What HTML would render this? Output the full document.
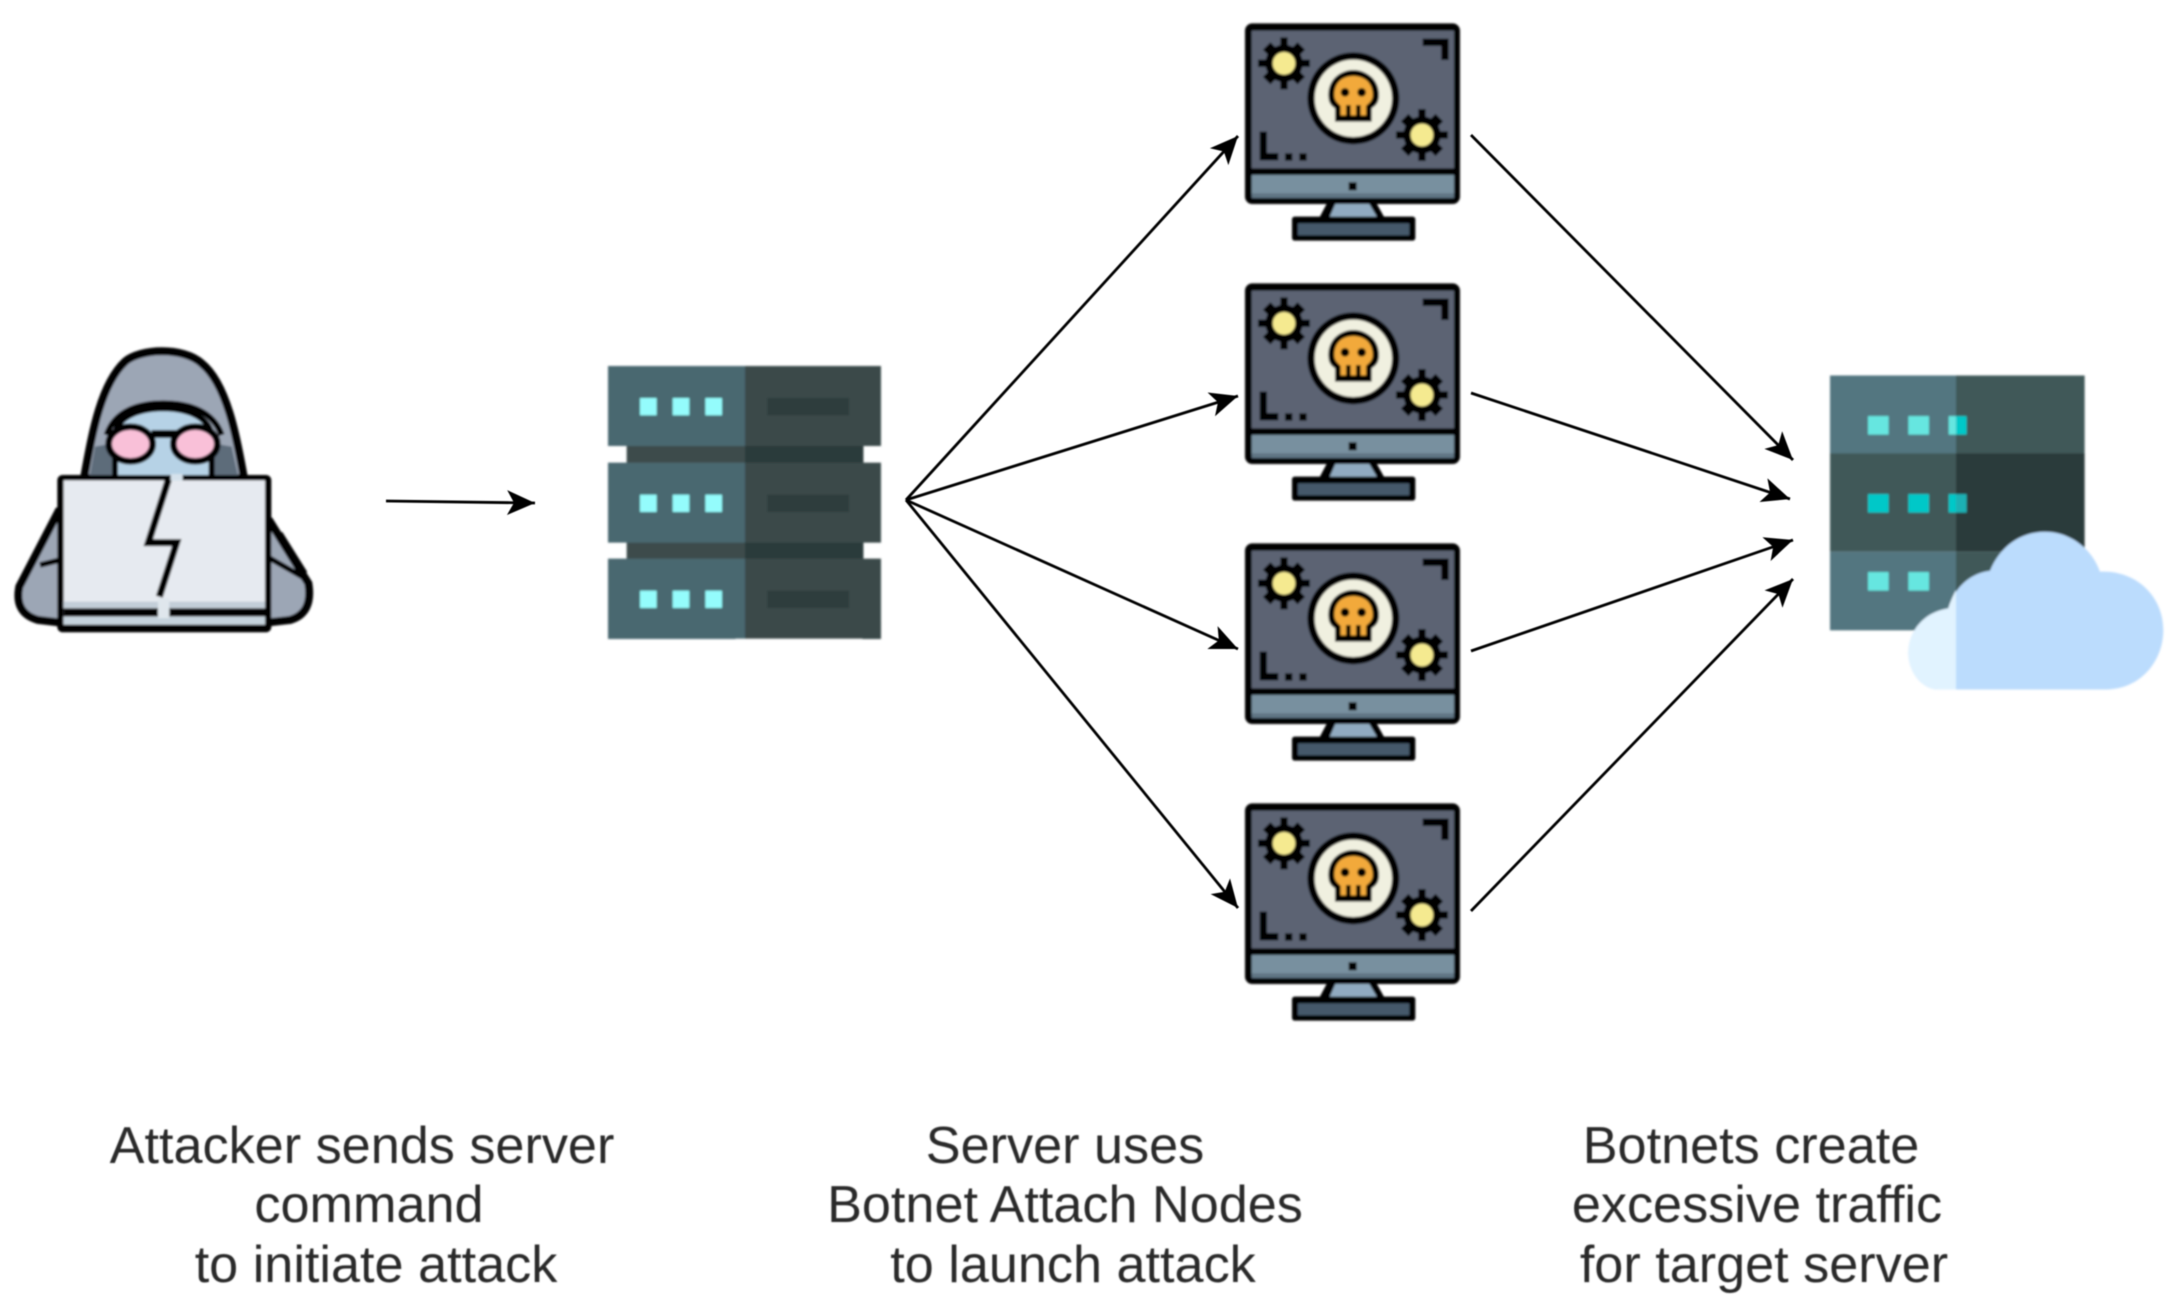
<!DOCTYPE html>
<html><head><meta charset="utf-8"><style>
html,body{margin:0;padding:0;background:#fff}
svg{display:block}
text{font-family:"Liberation Sans",Arial,sans-serif;font-size:52.2px;fill:#2a2a2a;text-anchor:middle}
</style></head><body>
<svg xmlns="http://www.w3.org/2000/svg" width="2178" height="1314" viewBox="0 0 2178 1314">
<defs>
<filter id="b" x="-5%" y="-5%" width="110%" height="110%"><feGaussianBlur stdDeviation="1.1"/></filter>
<filter id="t" x="-5%" y="-20%" width="110%" height="140%"><feGaussianBlur stdDeviation="0.7"/></filter>
<filter id="l" filterUnits="userSpaceOnUse" x="0" y="0" width="2178" height="1314"><feGaussianBlur stdDeviation="0.5"/></filter>
<marker id="a" markerUnits="userSpaceOnUse" markerWidth="32" markerHeight="28" refX="28" refY="14" orient="auto">
<path d="M0,1.5 L28,14 L0,26.5 L7,14 Z" fill="#000"/></marker>
<g id="sun">
<path d="M0,-78V78M-78,0H78" stroke="#000" stroke-width="22"/>
<path d="M-52,-52L52,52M-52,52L52,-52" stroke="#000" stroke-width="32"/>
<circle r="56" fill="#000"/><circle r="34" fill="#f5ea90"/>
</g>
<g id="mon">
<path d="M296,570H434L470,635H262Z" fill="#000"/>
<path d="M316,582H418L445,628H296Z" fill="#90aac0"/>
<rect x="186" y="620" width="370" height="72" rx="8" fill="#000"/>
<rect x="204" y="640" width="334" height="36" fill="#45596a"/>
<rect x="45" y="40" width="645" height="542" rx="22" fill="#000"/>
<rect x="65" y="62" width="607" height="413" fill="#5c6473"/>
<path d="M65,495H672V550Q672,564 658,564H79Q65,564 65,550Z" fill="#78909f"/>
<rect x="65" y="550" width="607" height="14" fill="#5f7484"/>
<rect x="356" y="517" width="24" height="24" fill="#000"/>
<path d="M578,97H645V150" fill="none" stroke="#000" stroke-width="22"/>
<path d="M100,365V440H145" fill="none" stroke="#000" stroke-width="22"/>
<rect x="165" y="430" width="22" height="22"/><rect x="208" y="430" width="22" height="22"/>
<use href="#sun" x="162" y="160"/><use href="#sun" x="576" y="375"/>
<circle cx="370" cy="265" r="138" fill="#000"/>
<circle cx="370" cy="265" r="116" fill="#f0f0e0"/>
<path d="M295,255C295,205 335,180 370,180C405,180 447,205 447,255C447,285 430,290 425,295V335H315V295C310,290 295,285 295,255Z" fill="#000"/>
<path d="M313,255C313,215 340,198 370,198C400,198 428,215 428,255C428,275 412,282 408,288V316H332V288C328,282 313,275 313,255Z" fill="#f2a93b"/>
<circle cx="345" cy="247" r="13" fill="#000"/><circle cx="395" cy="247" r="13" fill="#000"/>
<path d="M355,285V320M385,285V320" stroke="#000" stroke-width="14"/>
</g>
</defs>

<!-- connectors -->
<g fill="none" stroke="#000" stroke-width="2.8" marker-end="url(#a)" filter="url(#l)">
<path d="M386,501L535,503"/>
<path d="M906,500L1238,136"/>
<path d="M906,500L1238,396"/>
<path d="M906,500L1238,649"/>
<path d="M906,500L1238,908"/>
<path d="M1471,135L1793,460"/>
<path d="M1471,393L1790,499"/>
<path d="M1471,651L1793,540"/>
<path d="M1471,911L1793,579"/>
</g>

<g filter="url(#b)">
<!-- hacker -->
<g transform="translate(0,330) scale(.3333)">
<path d="M175,545L58,770Q42,850 115,870L200,880V545Z" fill="#9ca6b5" stroke="#000" stroke-width="24"/>
<path d="M810,575L925,760Q940,850 870,870L780,880V575Z" fill="#9ca6b5" stroke="#000" stroke-width="24"/>
<path d="M120,705L180,690M810,685L915,745M840,610L915,730" fill="none" stroke="#000" stroke-width="16"/>
<path d="M252,445C275,320 300,165 375,95C420,55 550,50 605,100C680,160 710,320 732,445Z" fill="#9ca6b5" stroke="#000" stroke-width="24"/>
<path d="M268,445L285,350L340,340V445ZM716,445L695,350L640,340V445Z" fill="#5d6c7a"/>
<path d="M345,445V320C345,265 410,235 490,235C570,235 630,265 635,320V445Z" fill="#b6d2e6" stroke="#000" stroke-width="18"/>
<path d="M320,315C345,240 420,220 490,220C570,220 640,245 665,315" fill="none" stroke="#000" stroke-width="18"/>
<rect x="455" y="300" width="75" height="24" fill="#000"/>
<ellipse cx="392" cy="342" rx="66" ry="52" fill="#f9c0d8" stroke="#000" stroke-width="20"/>
<ellipse cx="586" cy="342" rx="66" ry="52" fill="#f9c0d8" stroke="#000" stroke-width="20"/>
<rect x="172" y="435" width="642" height="472" rx="16" fill="#000"/>
<rect x="191" y="451" width="604" height="433" fill="#e6eaf0"/>
<rect x="191" y="815" width="604" height="20" fill="#c3ced8"/>
<rect x="191" y="835" width="604" height="25" fill="#000"/>
<rect x="191" y="860" width="604" height="24" fill="#c5d2dc"/>
<rect x="474" y="805" width="34" height="60" fill="#dfe6ec"/>
<path d="M508,440L445,638H530L478,800" fill="none" stroke="#000" stroke-width="21"/>
<rect x="512" y="432" width="36" height="20" fill="#d5e2ec"/>
</g>

<!-- server -->
<g transform="translate(590,350) scale(.3333)">
<rect x="110" y="285" width="710" height="60" fill="#3d4c4c"/>
<rect x="110" y="575" width="710" height="60" fill="#3d4c4c"/>
<rect x="465" y="285" width="355" height="60" fill="#2c3b3b"/>
<rect x="465" y="575" width="355" height="60" fill="#2c3b3b"/>
<g id="r">
<rect x="54" y="48" width="411" height="240" fill="#4a6870"/>
<rect x="465" y="48" width="408" height="240" fill="#3a4a4a"/>
<rect x="532" y="144" width="245" height="52" fill="#2f3e3e"/>
<rect x="150" y="144" width="50" height="52" fill="#94fcfc"/>
<rect x="248" y="144" width="50" height="52" fill="#94fcfc"/>
<rect x="346" y="144" width="50" height="52" fill="#94fcfc"/>
</g>
<use href="#r" y="290"/><use href="#r" y="578"/>
</g>

<!-- monitors -->
<g transform="translate(1230,10) scale(.3333)"><use href="#mon"/></g>
<g transform="translate(1230,270) scale(.3333)"><use href="#mon"/></g>
<g transform="translate(1230,530) scale(.3333)"><use href="#mon"/></g>
<g transform="translate(1230,790) scale(.3333)"><use href="#mon"/></g>

<!-- target server -->
<g transform="translate(1800,360) scale(.3333)">
<rect x="90" y="46" width="378" height="234" fill="#527680"/>
<rect x="468" y="46" width="386" height="234" fill="#405858"/>
<rect x="90" y="280" width="378" height="295" fill="#405858"/>
<rect x="468" y="280" width="386" height="295" fill="#2a3a3a"/>
<rect x="90" y="575" width="378" height="236" fill="#527680"/>
<rect x="468" y="575" width="386" height="236" fill="#405858"/>
<g fill="#66e6e0">
<rect x="204" y="168" width="62" height="56"/><rect x="325" y="168" width="62" height="56"/><rect x="446" y="168" width="22" height="56"/>
<rect x="204" y="636" width="62" height="56"/><rect x="325" y="636" width="62" height="56"/></g>
<rect x="468" y="168" width="32" height="56" fill="#00c8c8"/>
<g fill="#00c8c8">
<rect x="204" y="402" width="62" height="56"/><rect x="325" y="402" width="62" height="56"/><rect x="446" y="402" width="22" height="56"/></g>
<rect x="468" y="402" width="32" height="56" fill="#1fb0b4"/>
<path d="M468,988H410C360,985 325,930 325,880C325,810 375,755 445,745C465,680 510,640 570,632C600,560 660,515 735,515C810,515 875,565 900,635C1010,630 1090,710 1090,810C1090,905 1020,988 920,988Z" fill="#bbdcfd"/>
<path d="M468,988H410C360,985 325,930 325,880C325,810 375,755 445,745C452,722 460,705 468,690Z" fill="#e1f3ff"/>
</g>
</g>

<!-- labels -->
<g filter="url(#t)">
<text x="362" y="1163">Attacker sends server</text>
<text x="369" y="1222">command</text>
<text x="376" y="1282">to initiate attack</text>
<text x="1065" y="1163">Server uses</text>
<text x="1065" y="1222">Botnet Attach Nodes</text>
<text x="1073" y="1282">to launch attack</text>
<text x="1751" y="1163">Botnets create</text>
<text x="1757" y="1222">excessive traffic</text>
<text x="1764" y="1282">for target server</text>
</g>
</svg>
</body></html>
